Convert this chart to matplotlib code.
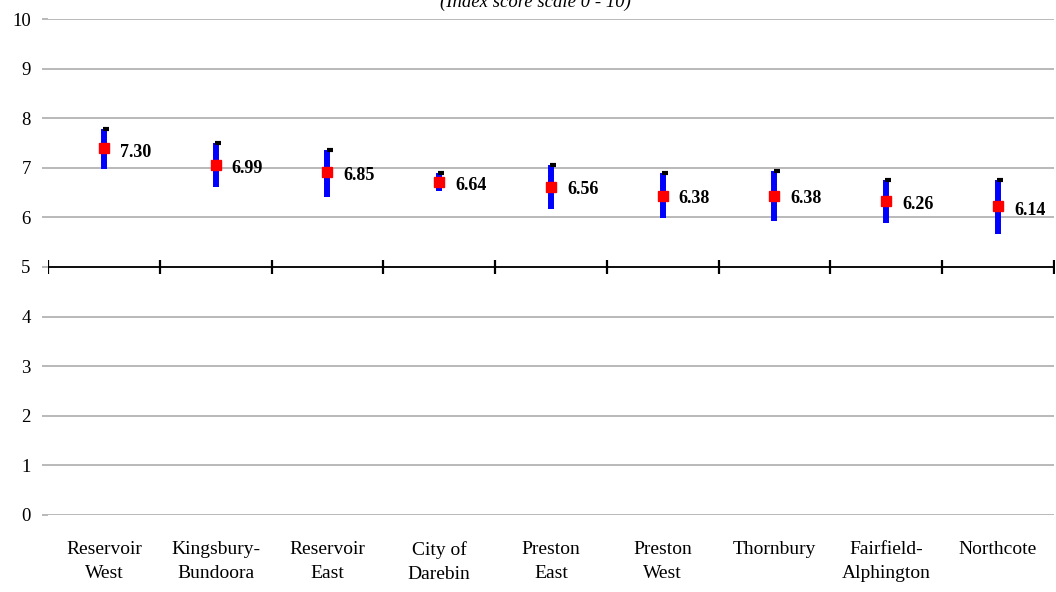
import matplotlib
matplotlib.use("Agg")
import matplotlib.pyplot as plt

# suburbs, left to right
areas = ["Reservoir\nWest", "Kingsbury-\nBundoora", "Reservoir\nEast", "City of\nDarebin",
         "Preston\nEast", "Preston\nWest", "Thornbury", "Fairfield-\nAlphington", "Northcote"]
# index score (label), interval low/high and the plotted midpoint
score = [7.30, 6.99, 6.85, 6.64, 6.56, 6.38, 6.38, 6.26, 6.14]
low = [6.97, 6.61, 6.42, 6.54, 6.17, 5.99, 5.93, 5.88, 5.67]
high = [7.78, 7.51, 7.36, 6.89, 7.06, 6.90, 6.94, 6.75, 6.75]
mid = [7.39, 7.06, 6.92, 6.72, 6.62, 6.44, 6.43, 6.33, 6.22]

plt.rcParams['font.family'] = ['Liberation Serif', 'DejaVu Serif']

fig = plt.figure(figsize=(10.56, 5.92), dpi=100)
ax = fig.add_axes([0.0455, 0.1301, 0.9525, 0.8378])

x = list(range(len(areas)))

# grid lines
for v in range(0, 11):
    ax.axhline(v, color='#a6a6a6', lw=1.1, zorder=0)

# midpoint axis at 5 with category separators
bounds = [i - 0.5 for i in range(len(areas) + 1)]
ax.plot(bounds, [5] * len(bounds), color='black', lw=1.3, marker='|', ms=10, mew=1.6, zorder=2)

# intervals
ax.vlines(x, low, high, color='#0000ff', lw=4.3, zorder=3)
ax.plot([i + 0.02 for i in x], high, ls='none', marker='_', ms=4, mew=3, color='black', zorder=4)
ax.plot(x, mid, ls='none', marker='s', ms=7.5, color='#ff0000', zorder=5)

for i, s in enumerate(score):
    ax.annotate(f"{s:.2f}", (i, s), xytext=(11.5, 0), textcoords='offset points',
                ha='left', va='center', fontsize=13, fontweight='bold')

ax.set_xlim(-0.5, len(areas) - 0.5)
ax.set_ylim(0, 10)
ax.set_yticks(range(0, 11))
ax.set_xticks(x)
ax.set_xticklabels(areas, fontsize=14, linespacing=1.58)
ax.tick_params(axis='x', length=0, pad=18.5)
ax.tick_params(axis='y', length=4.5, width=1.1, color='#a6a6a6', labelsize=13.5, pad=8)
for sp in ax.spines.values():
    sp.set_visible(False)

fig.text(0.507, 1 - 7 / 592, "(Index score scale 0 - 10)", ha='center', va='baseline',
         fontsize=13.5, style='italic')

fig.savefig("out.png", dpi=100)
